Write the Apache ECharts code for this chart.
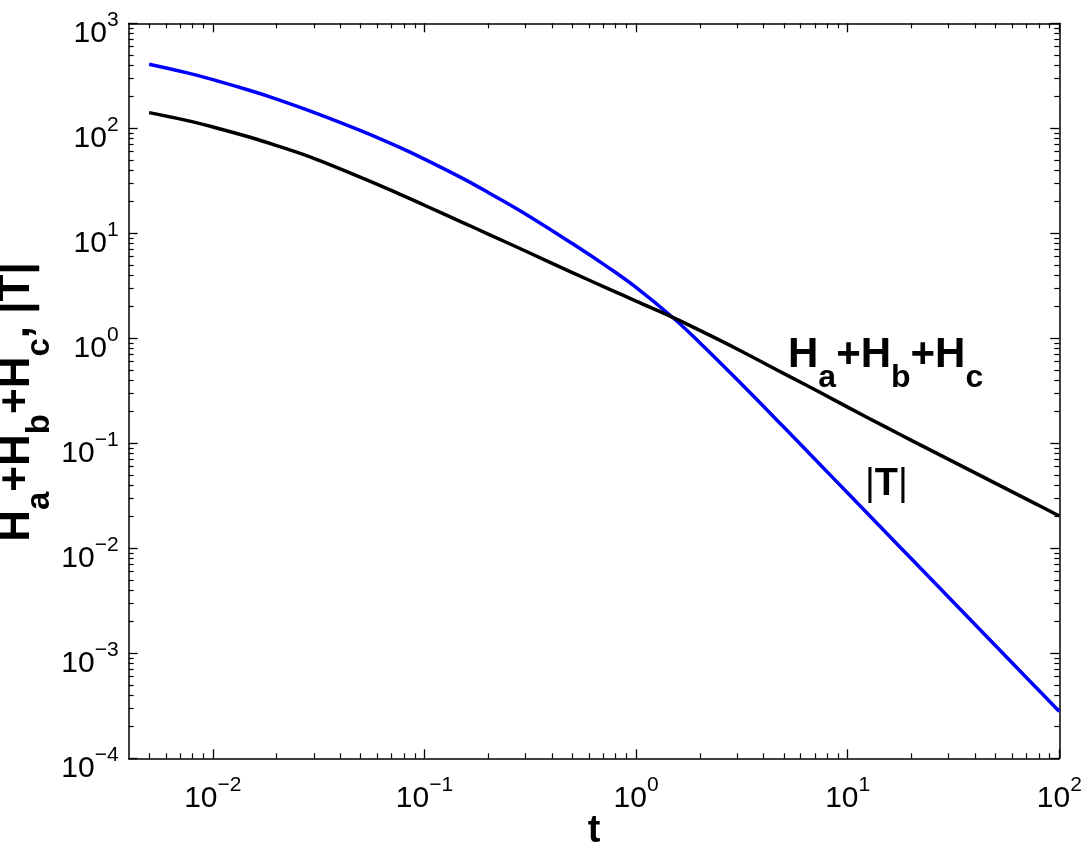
<!DOCTYPE html>
<html>
<head>
<meta charset="utf-8">
<script src="https://cdn.jsdelivr.net/npm/echarts@6/dist/echarts.min.js"></script>
<style>
html, body {margin: 0; padding: 0; background: #fff;}
#chart {width: 1086px; height: 848px;}
</style>
</head>
<body>
<div id="chart"></div>
<script>
// values (log-log)
var tValues = [0.005, 0.0075, 0.01, 0.015, 0.02, 0.03, 0.05, 0.075, 0.1, 0.15, 0.2, 0.3, 0.5, 0.75,
    1, 1.5, 2, 3, 5, 7.5, 10, 15, 20, 30, 50, 75, 100];
var sumH = [141, 119, 103, 82.2, 68.5, 51.8, 34.1, 24.0, 18.5, 12.8, 9.84, 6.78, 4.22, 2.93,
    2.26, 1.574, 1.19, 0.792, 0.461, 0.301, 0.221, 0.144, 0.1067, 0.0703, 0.0415, 0.0274, 0.0203];
var absT = [408, 339, 291, 229, 190, 142, 95, 66.8, 50.9, 33.7, 24.5, 15.3, 7.98, 4.63,
    3.05, 1.56, 0.908, 0.405, 0.142, 0.0611, 0.0336, 0.01445, 0.00794, 0.00342, 0.00118, 0.000508, 0.000279];

var xRange = [0.004, 100];
var yRange = [1e-4, 1e3];
var xMajor = [0.01, 0.1, 1, 10, 100];
var yMajor = [1e-4, 1e-3, 1e-2, 1e-1, 1, 10, 100, 1000];

var FONT = "'Liberation Sans', Arial, Helvetica, sans-serif";

function minors(lo, hi) {
    var out = [];
    for (var e = Math.floor(Math.log10(lo)); e < Math.log10(hi); e++) {
        for (var k = 2; k < 10; k++) {
            var v = k * Math.pow(10, e);
            if (v >= lo && v <= hi) out.push(v);
        }
    }
    return out;
}
function lg(list) { return list.map(function(v) { return Math.log10(v) }) }

var powRich = {
    b: {fontFamily: FONT, fontSize: 30, lineHeight: 30, padding: [10, 0, 10, 0], verticalAlign: 'top', color: '#000'},
    s: {fontFamily: FONT, fontSize: 21, lineHeight: 21, padding: [1, 0, 0, 0], verticalAlign: 'top', color: '#000'}
};
function powLabel(v) {
    var n = Math.round(v);
    return '{b|10}{s|' + (n < 0 ? '\u2212' + (-n) : n) + '}';
}

// overlay value axes in log10 space, used only to draw the box, ticks and labels
function tickAxis(dim, pos, range, major, minor, withLabel) {
    var base = {
        type: 'value', gridIndex: 0, position: pos,
        min: Math.log10(range[0]), max: Math.log10(range[1]),
        splitLine: {show: false}, animation: false
    };
    var a = Object.assign({}, base, {
        axisLine: {show: true, onZero: false, lineStyle: {color: '#000', width: 1.5}},
        axisTick: {show: true, inside: true, length: 9, customValues: lg(major), lineStyle: {color: '#000', width: 1.3}},
        axisLabel: withLabel ? {
            show: true, customValues: lg(major), formatter: powLabel, rich: powRich,
            margin: dim == 'x' ? 15 : 10
        } : {show: false}
    });
    var b = Object.assign({}, base, {
        axisLine: {show: false, onZero: false},
        axisTick: {show: true, inside: true, length: 5, customValues: lg(minor), lineStyle: {color: '#000', width: 1.2}},
        axisLabel: {show: false}
    });
    return [a, b];
}

var xMinor = minors(0.005, xRange[1]);
var yMinor = minors(yRange[0], yRange[1]);

var subRich = function(size, sub, drop) {
    return {
        m: {fontFamily: FONT, fontSize: size, fontWeight: 'bold', lineHeight: size, verticalAlign: 'top', color: '#000'},
        s: {fontFamily: FONT, fontSize: sub, fontWeight: 'bold', lineHeight: sub, padding: [drop, 0, 0, 0], verticalAlign: 'top', color: '#000'}
    };
};

var chart = echarts.init(document.getElementById('chart'), null, {renderer: 'canvas'});
chart.setOption({
    animation: false,
    backgroundColor: '#fff',
    grid: {left: 128.6, right: 26.7, top: 23.3, bottom: 89.7, containLabel: false, outerBoundsMode: 'none'},
    xAxis: [{type: 'log', gridIndex: 0, min: xRange[0], max: xRange[1], logBase: 10, show: false}]
        .concat(tickAxis('x', 'bottom', xRange, xMajor, xMinor, true))
        .concat(tickAxis('x', 'top', xRange, xMajor, xMinor, false)),
    yAxis: [{type: 'log', gridIndex: 0, min: yRange[0], max: yRange[1], logBase: 10, show: false}]
        .concat(tickAxis('y', 'left', yRange, yMajor, yMinor, true))
        .concat(tickAxis('y', 'right', yRange, yMajor, yMinor, false)),
    series: [{
        name: '|T|', type: 'line', xAxisIndex: 0, yAxisIndex: 0,
        data: tValues.map(function(t, i) { return [t, absT[i]] }),
        showSymbol: false, smooth: 0.4,
        lineStyle: {color: '#0000ff', width: 3.5}, itemStyle: {color: '#0000ff'}
    }, {
        name: 'Ha+Hb+Hc', type: 'line', xAxisIndex: 0, yAxisIndex: 0,
        data: tValues.map(function(t, i) { return [t, sumH[i]] }),
        showSymbol: false, smooth: 0.4,
        lineStyle: {color: '#000', width: 3.5}, itemStyle: {color: '#000'}
    }],
    graphic: [{
        type: 'text', x: -5, y: 402, rotation: Math.PI / 2,
        style: {
            text: '{m|H}{s|a}{m|+H}{s|b}{m|+H}{s|c}{m|, |T|}',
            align: 'center', verticalAlign: 'top', rich: subRich(44, 33, 28)
        }
    }, {
        type: 'text', x: 788, y: 334.5,
        style: {
            text: '{m|H}{s|a}{m|+H}{s|b}{m|+H}{s|c}',
            align: 'left', verticalAlign: 'top', rich: subRich(42, 32, 28)
        }
    }, {
        type: 'text', x: 865, y: 485,
        style: {
            text: '{p||}{t|T}{p||}', align: 'left', verticalAlign: 'middle',
            rich: {
                p: {fontFamily: FONT, fontSize: 38, color: '#0000ff'},
                t: {fontFamily: FONT, fontSize: 38, fontWeight: 'bold', color: '#0000ff'}
            }
        }
    }, {
        type: 'text', x: 594, y: 832,
        style: {text: 't', fontFamily: FONT, fontSize: 38, fontWeight: 'bold', fill: '#000', align: 'center', verticalAlign: 'middle'}
    }]
});
</script>
</body>
</html>
